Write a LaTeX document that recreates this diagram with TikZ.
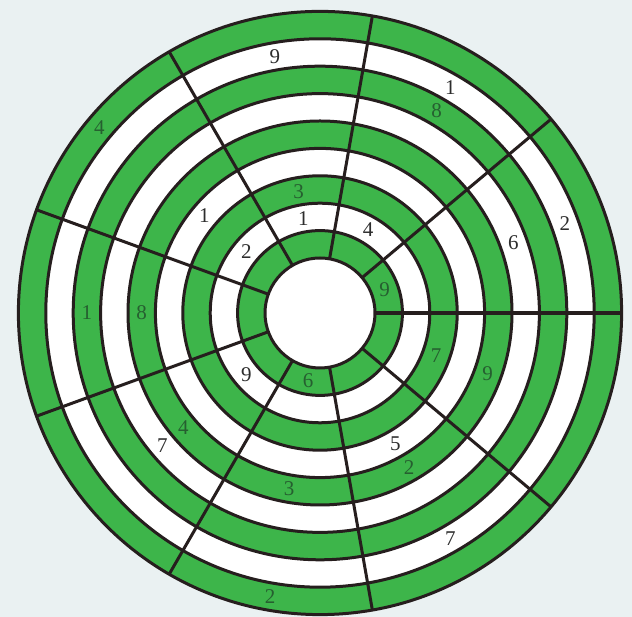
\documentclass[tikz,border=0pt]{standalone}
\usepackage{fontspec}
\setmainfont{Liberation Serif}
\definecolor{bg}{RGB}{234,241,242}
\definecolor{gr}{RGB}{61,181,74}
\definecolor{ln}{RGB}{38,30,30}
\definecolor{gtxt}{RGB}{38,95,48}
\definecolor{wtxt}{RGB}{45,45,45}
\begin{document}
\begin{tikzpicture}[x=1pt,y=1pt,
  ringline/.style={draw=ln,line width=3pt},
  mainspoke/.style={draw=ln,line width=4.2pt},
  lab/.style={font=\fontsize{21}{21}\selectfont,inner sep=0pt}]
\fill[bg] (0,0) rectangle (632,617);
\useasboundingbox (0,0) rectangle (632,617);
\coordinate (c) at (320,304);
% filled rings
\foreach \k in {9,8,...,0}{
  \pgfmathsetmacro\r{55+27.4*\k}
  \ifodd\k
    \fill[gr] (c) circle [radius=\r];
  \else
    \fill[white] (c) circle [radius=\r];
  \fi
}
% ring outlines
\foreach \k in {0,...,9}{
  \draw[ringline] (c) circle [radius={55+27.4*\k}];
}
% spokes
\foreach \a in {40,80,...,320}{
  \draw[ringline] ([shift={(\a:55)}]c) -- ([shift={(\a:301.6)}]c);
}
\draw[mainspoke] ([shift={(0:55)}]c) -- ([shift={(0:301.6)}]c);
% labels
\foreach \a/\i/\t/\col [count=\n] in {
  100/8/9/wtxt, 60/8/1/wtxt, 60/7/8/gtxt, 140/9/4/gtxt,
  20/8/2/wtxt, 20/6/6/wtxt, 100/3/3/gtxt, 100/2/1/wtxt,
  140/4/1/wtxt, 140/2/2/wtxt, 60/2/4/wtxt, 20/1/9/gtxt,
  180/7/1/gtxt, 180/5/8/gtxt, 220/2/9/wtxt, 260/1/6/gtxt,
  340/3/7/gtxt, 340/5/9/gtxt, 220/5/4/gtxt, 220/6/7/wtxt,
  300/4/5/wtxt, 300/5/2/gtxt, 260/5/3/gtxt, 300/8/7/wtxt,
  260/9/2/gtxt}{
  \node[lab,text=\col] (l\n) at ([shift={({\a}:{55+27.4*\i-13.7})}]c) {\t};
}
\end{tikzpicture}
\end{document}
